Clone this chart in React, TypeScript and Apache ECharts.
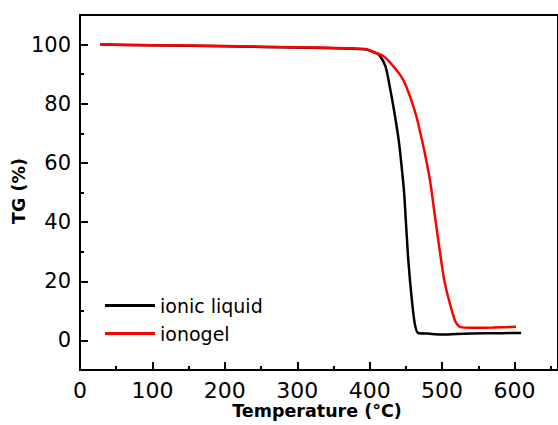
import React, { useEffect, useRef } from "react";
import * as echarts from "echarts";

const xMajorTicks = [0, 100, 200, 300, 400, 500, 600];
const xMinorTicks = [50, 150, 250, 350, 450, 550, 650];
const yMajorTicks = [0, 20, 40, 60, 80, 100];
const yMinorTicks = [-10, 10, 30, 50, 70, 90, 110];

const ionicLiquid: [number, number][] = [
  [28, 100], [100, 99.8], [200, 99.4], [300, 99.0], [380, 98.6], [396, 98.3],
  [405, 97.5], [412.7, 96.6], [421.8, 92.6], [428.5, 84.7], [435, 75.7],
  [440, 67.8], [444, 59], [447.5, 50], [450.5, 38], [453.5, 26.5], [457.8, 14.7],
  [462.3, 5.6], [466.8, 2.5], [480, 2.3], [500.7, 2.0], [520, 2.2], [560, 2.4],
  [609, 2.5],
];

const ionogel: [number, number][] = [
  [28, 100], [100, 99.8], [200, 99.5], [300, 99.1], [380, 98.7], [396, 98.4],
  [406, 97.4], [419.5, 96], [433, 92.6], [446.5, 88], [455.6, 82.5],
  [464.5, 75.7], [471, 69], [478, 61], [484, 53], [489.5, 43], [496, 31.6],
  [503, 20.3], [512, 11.3], [518.7, 6.2], [525.5, 4.5], [541, 4.3], [570, 4.4],
  [602, 4.6],
];

const FONT = "DejaVu Sans";

export default function App() {
  const ref = useRef<HTMLDivElement>(null);
  useEffect(() => {
    if (!ref.current) return;
    const chart = echarts.init(ref.current, undefined, { renderer: "svg" });
    const majorTick = { show: true, inside: true, length: 8, lineStyle: { width: 2, color: "#000" } };
    const minorTick = { show: true, inside: true, length: 4, lineStyle: { width: 2, color: "#000" } };
    chart.setOption({
      animation: false,
      backgroundColor: "#fff",
      grid: {
        left: 80, top: 15, bottom: 55, right: -10,
        show: true, borderColor: "#000", borderWidth: 2,
      },
      legend: {
        orient: "vertical",
        left: 100,
        top: 291,
        itemWidth: 50,
        itemHeight: 3,
        itemGap: 9,
        icon: "rect",
        textStyle: { fontFamily: FONT, fontSize: 19, color: "#000", lineHeight: 19 },
        data: ["ionic liquid", "ionogel"],
      },
      xAxis: [
        {
          type: "value", min: 0, max: 660, interval: 100, position: "bottom",
          axisLine: { show: true, onZero: false, lineStyle: { color: "#000", width: 2 } },
          axisTick: { ...majorTick, customValues: xMajorTicks },
          axisLabel: { show: true, margin: 9, fontFamily: FONT, fontSize: 22, color: "#000", customValues: xMajorTicks },
          splitLine: { show: false },
        },
        {
          type: "value", min: 0, max: 660, position: "bottom",
          axisLine: { show: false, onZero: false },
          axisTick: { ...minorTick, customValues: xMinorTicks },
          axisLabel: { show: false },
          splitLine: { show: false },
        },
      ],
      yAxis: [
        {
          type: "value", min: -10, max: 110, position: "left",
          axisLine: { show: true, onZero: false, lineStyle: { color: "#000", width: 2 } },
          axisTick: { ...majorTick, customValues: yMajorTicks },
          axisLabel: { show: true, margin: 9, fontFamily: FONT, fontSize: 21, color: "#000", customValues: yMajorTicks },
          splitLine: { show: false },
        },
        {
          type: "value", min: -10, max: 110, position: "left",
          axisLine: { show: false, onZero: false },
          axisTick: { ...minorTick, customValues: yMinorTicks },
          axisLabel: { show: false },
          splitLine: { show: false },
        },
      ],
      graphic: [
        {
          type: "text", x: 317, y: 411,
          style: {
            text: "Temperature (°C)", fontFamily: FONT, fontWeight: "bold", fontSize: 17.5,
            fill: "#000", align: "center", verticalAlign: "middle",
          },
        },
        {
          type: "text", x: 19, y: 191, rotation: Math.PI / 2,
          style: {
            text: "TG (%)", fontFamily: FONT, fontWeight: "bold", fontSize: 17.5,
            fill: "#000", align: "center", verticalAlign: "middle",
          },
        },
      ],
      series: [
        {
          name: "ionic liquid", type: "line", data: ionicLiquid, showSymbol: false,
          smooth: 0.25,
          lineStyle: { color: "#000", width: 2.5 }, itemStyle: { color: "#000" },
          xAxisIndex: 0, yAxisIndex: 0, z: 2,
        },
        {
          name: "ionogel", type: "line", data: ionogel, showSymbol: false,
          smooth: 0.25,
          lineStyle: { color: "#ff0000", width: 2.5 }, itemStyle: { color: "#ff0000" },
          xAxisIndex: 0, yAxisIndex: 0, z: 3,
        },
      ],
    });
    return () => chart.dispose();
  }, []);
  return (
    <div
      ref={ref}
      style={{ position: "fixed", left: 0, top: 0, width: 558, height: 425 }}
    />
  );
}
